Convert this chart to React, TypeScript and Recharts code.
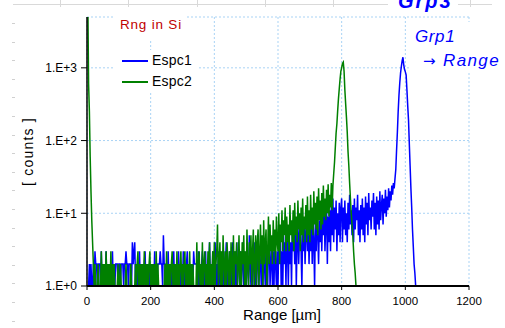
import React from 'react';
import { LineChart, Line, XAxis, YAxis, CartesianGrid, Legend, Label } from 'recharts';

// ---- data (counts per 2.5 µm bin) ----
const BIN_UM = 2.5;

const ESPC1: number[] = [
  1, 1, 1, 2, 1, 2, 1, 1, 2, 1, 3, 2, 2, 1, 2, 2, 2, 1, 3, 1, // 0..47.5
  2, 1, 2, 1, 3, 1, 2, 1, 2, 1, 2, 1, 3, 1, 2, 1, 2, 2, 2, 1, // 50..97.5
  2, 2, 1, 2, 2, 2, 1, 2, 2, 3, 2, 2, 1, 2, 2, 2, 1, 4, 2, 3, // 100..147.5
  4, 1, 2, 1, 2, 1, 3, 1, 2, 1, 2, 1, 2, 3, 1, 2, 1, 2, 1, 2, // 150..197.5
  1, 2, 1, 2, 1, 3, 1, 2, 1, 2, 2, 2, 3, 2, 2, 1, 5, 2, 2, 1, // 200..247.5
  2, 1, 3, 1, 2, 1, 2, 1, 2, 3, 1, 2, 1, 2, 1, 3, 1, 2, 1, 2, // 250..297.5
  1, 3, 1, 2, 1, 2, 3, 1, 2, 1, 2, 1, 2, 1, 3, 2, 2, 2, 2, 1, // 300..347.5
  3, 1, 2, 1, 2, 3, 1, 2, 1, 3, 1, 2, 1, 2, 4, 1, 2, 1, 3, 1, // 350..397.5
  2, 4, 1, 2, 1, 3, 1, 2, 3, 1, 2, 1, 3, 1, 2, 4, 1, 2, 1, 3, // 400..447.5
  1, 3, 1, 4, 2, 1, 3, 1, 2, 1, 4, 2, 1, 3, 1, 2, 4, 1, 3, 2, // 450..497.5
  1, 3, 2, 1, 5, 2, 1, 3, 1, 2, 4, 1, 3, 1, 2, 5, 1, 3, 2, 1, // 500..547.5
  4, 1, 3, 2, 1, 4, 2, 1, 3, 5, 1, 2, 4, 1, 3, 1, 5, 2, 1, 3, // 550..597.5
  1, 4, 2, 6, 1, 3, 1, 5, 2, 4, 1, 6, 3, 1, 5, 2, 4, 1, 7, 3, // 600..647.5
  6, 2, 8, 1, 4, 7, 2, 5, 9, 3, 1, 6, 3, 8, 2, 5, 10, 3, 7, 2, // 650..697.5
  6, 3, 10, 2, 8, 4, 1, 9, 3, 12, 5, 2, 8, 4, 11, 3, 9, 5, 14, 3, // 700..747.5
  7, 14, 2, 9, 4, 11, 3, 13, 5, 16, 4, 12, 6, 15, 3, 10, 5, 14, 4, 12, // 750..797.5
  16, 4, 12, 6, 15, 5, 10, 4, 14, 6, 18, 7, 11, 5, 13, 4, 16, 6, 12, 8, // 800..847.5
  18, 5, 11, 4, 13, 6, 16, 5, 12, 4, 17, 7, 14, 5, 19, 8, 12, 6, 15, 9, // 850..897.5
  19, 6, 14, 5, 17, 7, 15, 6, 20, 8, 13, 18, 7, 16, 10, 21, 9, 17, 11, 22, // 900..947.5
  12, 20, 15, 24, 18, 26, 22, 30, 40, 74, 130, 250, 420, 620, 850, 1050, 1250, 1400, 1100, 950, // 950..997.5
  880, 800, 500, 300, 190, 90, 45, 22, 12, 6, 3.5, 2, 1.5, 1, 1, 1, 1, // 1000..1040
];

const ESPC2: number[] = [
  9000, 9000, 600, 250, 60, 20, 8, 4, 2, 1, 2, 1, 1, 1, 2, 1, 1, 1, 3, 1, // 0..47.5
  2, 1, 2, 1, 3, 1, 2, 1, 2, 1, 3, 1, 2, 1, 2, 1, 1, 1, 1, 2, // 50..97.5
  1, 1, 2, 1, 1, 1, 1, 1, 1, 2, 1, 1, 1, 1, 1, 2, 1, 1, 1, 1, // 100..147.5
  1, 2, 1, 2, 3, 1, 2, 1, 2, 1, 2, 1, 3, 1, 2, 1, 2, 1, 2, 3, // 150..197.5
  1, 2, 1, 2, 1, 2, 1, 3, 1, 2, 1, 1, 1, 1, 1, 1, 1, 1, 2, 1, // 200..247.5
  3, 1, 2, 1, 2, 1, 2, 3, 1, 2, 1, 2, 1, 3, 1, 2, 1, 2, 3, 1, // 250..297.5
  2, 1, 2, 3, 1, 2, 1, 2, 1, 3, 1, 2, 1, 2, 1, 1, 1, 1, 4, 1, // 300..347.5
  2, 3, 1, 2, 1, 4, 1, 2, 3, 1, 2, 1, 3, 1, 4, 1, 2, 1, 3, 1, // 350..397.5
  4, 1, 2, 3, 7, 1, 2, 4, 1, 3, 1, 5, 2, 1, 3, 1, 4, 2, 1, 3, // 400..447.5
  1, 4, 2, 1, 5, 1, 3, 2, 4, 1, 2, 5, 1, 3, 1, 4, 2, 5, 1, 3, // 450..497.5
  1, 6, 2, 1, 4, 2, 5, 1, 3, 6, 1, 2, 5, 1, 4, 6, 1, 3, 7, 2, // 500..547.5
  5, 1, 8, 2, 4, 6, 1, 3, 9, 2, 7, 3, 5, 2, 8, 3, 6, 2, 9, 4, // 550..597.5
  3, 10, 2, 7, 4, 11, 3, 8, 5, 12, 3, 9, 4, 7, 3, 13, 5, 8, 4, 11, // 600..647.5
  3, 14, 5, 9, 4, 15, 6, 10, 3, 12, 5, 16, 4, 9, 6, 13, 4, 17, 5, 11, // 650..697.5
  4, 18, 6, 12, 5, 20, 7, 14, 6, 17, 5, 22, 8, 15, 6, 19, 7, 24, 9, 16, // 700..747.5
  8, 21, 10, 25, 9, 18, 12, 26, 11, 24, 35, 50, 80, 127, 170, 260, 380, 520, 700, 900, // 750..797.5
  1000, 1150, 1200, 900, 500, 320, 210, 130, 70, 45, 26, 16, 10, 7, 5, 3, 2, 1.5, 1, // 800..845
];

const SERIES_NAMES = ['Espc1', 'Espc2'];
const SERIES_COLORS = ['#0000ff', '#008000'];

const X_TICKS = [0, 200, 400, 600, 800, 1000, 1200];
const X_MINOR_TICKS = [
  40, 80, 120, 160, 240, 280, 320, 360, 440, 480, 520, 560, 640, 680, 720, 760,
  840, 880, 920, 960, 1040, 1080, 1120, 1160,
];
const Y_TICKS = [1, 10, 100, 1000];
const Y_TICK_LABELS = ['1.E+0', '1.E+1', '1.E+2', '1.E+3'];
const Y_MINOR_TICKS = [
  2, 3, 4, 5, 6, 7, 8, 9, 20, 30, 40, 50, 60, 70, 80, 90,
  200, 300, 400, 500, 600, 700, 800, 900, 2000, 3000, 4000,
];

const TITLE = 'Rng in Si';
const X_LABEL = 'Range [µm]';
const Y_LABEL = '[ counts ]';
const NOTE_TOP = 'Grp3';
const NOTE_LINE1 = 'Grp1';
const NOTE_ARROW = '→';
const NOTE_LINE2 = 'Range';

const data = ESPC1.map((v, i) => ({
  range: i * BIN_UM,
  espc1: v,
  espc2: i < ESPC2.length ? ESPC2[i] : null,
}));

const FONT = '"Liberation Sans", Arial, sans-serif';

function LegendContent(props: any) {
  const payload: any[] =
    props && props.payload && props.payload.length
      ? props.payload
      : SERIES_NAMES.map((n, i) => ({ value: n, color: SERIES_COLORS[i] }));
  return (
    <div style={{ background: '#fff', width: 84, height: 43, fontFamily: FONT, fontSize: 14 }}>
      {payload.map((p, i) => (
        <div key={i} style={{ display: 'flex', alignItems: 'center', height: 21, paddingLeft: 9 }}>
          <svg width={26} height={4} style={{ display: 'block' }}>
            <line x1={0} y1={2} x2={26} y2={2} stroke={p.color} strokeWidth={2} />
          </svg>
          <span style={{ marginLeft: 4, color: '#000', lineHeight: '21px', letterSpacing: 0.2 }}>{p.value}</span>
        </div>
      ))}
    </div>
  );
}

const CELL_COLS = [60, 128, 197, 265, 333, 402, 470];
const CELL_ROWS = Array.from({ length: 17 }, (_, k) => 23 + k * 18.6);

export default function App() {
  return (
    <div
      style={{
        position: 'absolute',
        left: 0,
        top: 0,
        width: 505,
        height: 328,
        background: '#fff',
        overflow: 'hidden',
      }}
    >
      {/* faint spreadsheet cell marks */}
      <div style={{ position: 'absolute', left: 13, top: 4, width: 479, height: 1, background: '#d9d9d9' }} />
      {CELL_COLS.map((x) => (
        <div key={x} style={{ position: 'absolute', left: x, top: 0, width: 1, height: 7, background: '#d9d9d9' }} />
      ))}
      {CELL_ROWS.map((y) => (
        <div key={y} style={{ position: 'absolute', left: 12, top: y, width: 3, height: 1, background: '#d0d0d0' }} />
      ))}

      <div style={{ position: 'absolute', left: 0, top: 0 }}>
        <LineChart width={505} height={328} data={data} margin={{ top: 17, right: 36, bottom: 10, left: 0 }}>
          <CartesianGrid stroke="#a9d3f5" strokeDasharray="2 2" />
          <XAxis
            xAxisId="minor"
            type="number"
            dataKey="range"
            domain={[0, 1200]}
            ticks={X_MINOR_TICKS}
            interval={0}
            mirror
            height={0}
            tick={false}
            axisLine={false}
            tickSize={3}
            tickLine={{ stroke: '#000' }}
          />
          <XAxis
            type="number"
            dataKey="range"
            domain={[0, 1200]}
            ticks={X_TICKS}
            interval={0}
            height={32}
            tickSize={4}
            tickMargin={7}
            axisLine={{ stroke: '#000', strokeWidth: 2 }}
            tickLine={{ stroke: '#000' }}
            tick={{ fill: '#000', fontSize: 11.5, fontFamily: FONT }}
          >
            <Label
              value={X_LABEL}
              position="insideBottom"
              offset={-2}
              dx={4}
              style={{ fill: '#000', fontSize: 15, fontFamily: FONT }}
            />
          </XAxis>
          <XAxis
            xAxisId="top"
            orientation="top"
            type="number"
            domain={[0, 1200]}
            height={0}
            tick={false}
            tickLine={false}
            axisLine={{ stroke: '#000', strokeWidth: 2 }}
          />
          <YAxis
            yAxisId="minor"
            scale="log"
            domain={[1, 5000]}
            allowDataOverflow
            ticks={Y_MINOR_TICKS}
            interval={0}
            mirror
            width={0}
            tick={false}
            axisLine={false}
            tickSize={3}
            tickLine={{ stroke: '#000' }}
          />
          <YAxis
            scale="log"
            domain={[1, 5000]}
            allowDataOverflow
            ticks={Y_TICKS}
            interval={0}
            width={87}
            tickSize={6}
            tickMargin={4}
            tickFormatter={(v: number) => Y_TICK_LABELS[Y_TICKS.indexOf(v)] ?? ''}
            axisLine={{ stroke: '#000', strokeWidth: 1.5 }}
            tickLine={{ stroke: '#000' }}
            tick={{ fill: '#000', fontSize: 12, fontFamily: FONT }}
          >
            <Label
              value={Y_LABEL}
              angle={-90}
              position="insideLeft"
              offset={28}
              style={{ fill: '#000', fontSize: 14, fontFamily: FONT, textAnchor: 'middle', letterSpacing: 1.2 }}
            />
          </YAxis>
          <YAxis
            yAxisId="right"
            orientation="right"
            type="number"
            domain={[0, 1]}
            width={0}
            tick={false}
            tickLine={false}
            axisLine={{ stroke: '#000', strokeWidth: 2 }}
          />
          <Line
            dataKey="espc1"
            name={SERIES_NAMES[0]}
            stroke={SERIES_COLORS[0]}
            strokeWidth={1.5}
            dot={false}
            type="linear"
            isAnimationActive={false}
          />
          <Line
            dataKey="espc2"
            name={SERIES_NAMES[1]}
            stroke={SERIES_COLORS[1]}
            strokeWidth={1.5}
            dot={false}
            type="linear"
            isAnimationActive={false}
          />
          <Legend
            layout="vertical"
            align="center"
            verticalAlign="middle"
            wrapperStyle={{ left: 113, top: 50, width: 84, height: 43 }}
            content={LegendContent}
          />
        </LineChart>
      </div>

      {/* title on the frame */}
      <div style={{ position: 'absolute', left: 115, top: 16, width: 72, height: 24, background: '#fff' }} />
      <div
        style={{
          position: 'absolute',
          left: 120,
          top: 18,
          fontFamily: FONT,
          fontSize: 13.5,
          lineHeight: '13.5px',
          letterSpacing: 0.8,
          color: '#c00000',
          whiteSpace: 'nowrap',
        }}
      >
        {TITLE}
      </div>

      {/* Grp3 note at the top edge */}
      <div style={{ position: 'absolute', left: 388, top: 0, width: 70, height: 12, background: '#fff' }} />
      <div
        style={{
          position: 'absolute',
          left: 398,
          top: -9,
          fontFamily: FONT,
          fontSize: 20,
          lineHeight: '20px',
          fontWeight: 'bold',
          fontStyle: 'italic',
          letterSpacing: 2,
          color: '#0000ff',
          whiteSpace: 'nowrap',
        }}
      >
        {NOTE_TOP}
      </div>

      {/* Grp1 -> Range note */}
      <div style={{ position: 'absolute', left: 410, top: 22, width: 95, height: 51, background: '#fff' }} />
      <div
        style={{
          position: 'absolute',
          left: 415,
          top: 27.6,
          fontFamily: FONT,
          fontSize: 17,
          lineHeight: '17px',
          fontStyle: 'italic',
          letterSpacing: 0.6,
          color: '#0000ff',
          whiteSpace: 'nowrap',
        }}
      >
        {NOTE_LINE1}
      </div>
      <div
        style={{
          position: 'absolute',
          left: 423,
          top: 51.6,
          fontFamily: FONT,
          fontSize: 17,
          lineHeight: '17px',
          fontStyle: 'italic',
          letterSpacing: 1.4,
          color: '#0000ff',
          whiteSpace: 'nowrap',
        }}
      >
        <span style={{ fontFamily: '"DejaVu Sans", sans-serif', fontStyle: 'normal', fontSize: 15 }}>{NOTE_ARROW}</span>
        <span style={{ marginLeft: 6 }}>{NOTE_LINE2}</span>
      </div>
    </div>
  );
}
